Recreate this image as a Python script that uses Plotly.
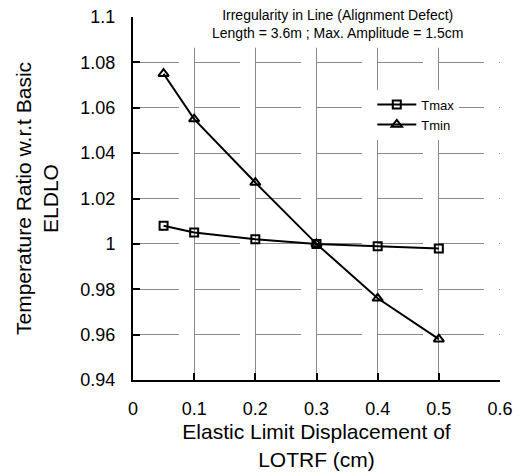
import plotly.graph_objects as go

# ---- data ----
x_disp = [0.05, 0.1, 0.2, 0.3, 0.4, 0.5]
t_max = [1.008, 1.005, 1.002, 1.000, 0.999, 0.998]
t_min = [1.075, 1.055, 1.027, 1.000, 0.976, 0.958]

x_tickvals = [0, 0.1, 0.2, 0.3, 0.4, 0.5, 0.6]
x_ticktext = ["0", "0.1", "0.2", "0.3", "0.4", "0.5", "0.6"]
y_tickvals = [0.94, 0.96, 0.98, 1.0, 1.02, 1.04, 1.06, 1.08, 1.1]
y_ticktext = ["0.94", "0.96", "0.98", "1", "1.02", "1.04", "1.06", "1.08", "1.1"]

FONT = "Liberation Sans, Arial, sans-serif"

fig = go.Figure()
fig.add_trace(go.Scatter(
    x=x_disp, y=t_max, name="Tmax", mode="lines+markers",
    line=dict(color="black", width=2),
    marker=dict(symbol="square-open", size=8, color="black", line=dict(width=2)),
))
fig.add_trace(go.Scatter(
    x=x_disp, y=t_min, name="Tmin", mode="lines+markers",
    line=dict(color="black", width=2),
    marker=dict(symbol="triangle-up-open", size=9, color="black", line=dict(width=2)),
))

fig.update_layout(
    width=525, height=476,
    margin=dict(l=133, r=25, t=17, b=96, autoexpand=False),
    paper_bgcolor="white", plot_bgcolor="white",
    font=dict(family=FONT, color="black"),
    showlegend=True,
    legend=dict(
        x=0.652, y=0.80, xanchor="left", yanchor="top",
        bgcolor="white", borderwidth=0,
        font=dict(size=13, family=FONT, color="black"),
        tracegroupgap=0, itemwidth=39,
    ),
    xaxis=dict(
        range=[0, 0.6], tickvals=x_tickvals, ticktext=x_ticktext,
        showline=True, linecolor="black", linewidth=2, mirror=False,
        ticks="inside", ticklen=7, tickwidth=2, tickcolor="black",
        showgrid=True, gridcolor="#8a8a8a", gridwidth=1, griddash="solid",
        zeroline=False,
        tickfont=dict(size=18, family=FONT, color="black"),
        ticklabelstandoff=11,
        title=dict(text="Elastic Limit Displacement of<br>LOTRF (cm)",
                   font=dict(size=21, family=FONT, color="black"), standoff=7),
    ),
    yaxis=dict(
        range=[0.94, 1.1], tickvals=y_tickvals, ticktext=y_ticktext,
        showline=True, linecolor="black", linewidth=2, mirror=False,
        ticks="inside", ticklen=7, tickwidth=2, tickcolor="black",
        showgrid=True, gridcolor="#8a8a8a", gridwidth=1, griddash="46px,15px",
        zeroline=False,
        tickfont=dict(size=18, family=FONT, color="black"),
        ticklabelstandoff=12,
        title=dict(text="Temperature Ratio w.r.t Basic<br>ELDLO",
                   font=dict(size=21, family=FONT, color="black"), standoff=16),
    ),
    shapes=[dict(
        type="rect", xref="x domain", yref="y domain",
        x0=0.025, x1=1.0, y0=0.915, y1=1.0,
        fillcolor="white", line=dict(width=0), layer="above",
    )],
    annotations=[dict(
        text="Irregularity in Line (Alignment Defect)<br>Length = 3.6m ; Max. Amplitude = 1.5cm",
        xref="paper", yref="paper", x=0.556, y=0.982,
        xanchor="center", yanchor="middle", showarrow=False,
        font=dict(size=14, family=FONT, color="black"),
    )],
)

fig.write_html("out.html")
